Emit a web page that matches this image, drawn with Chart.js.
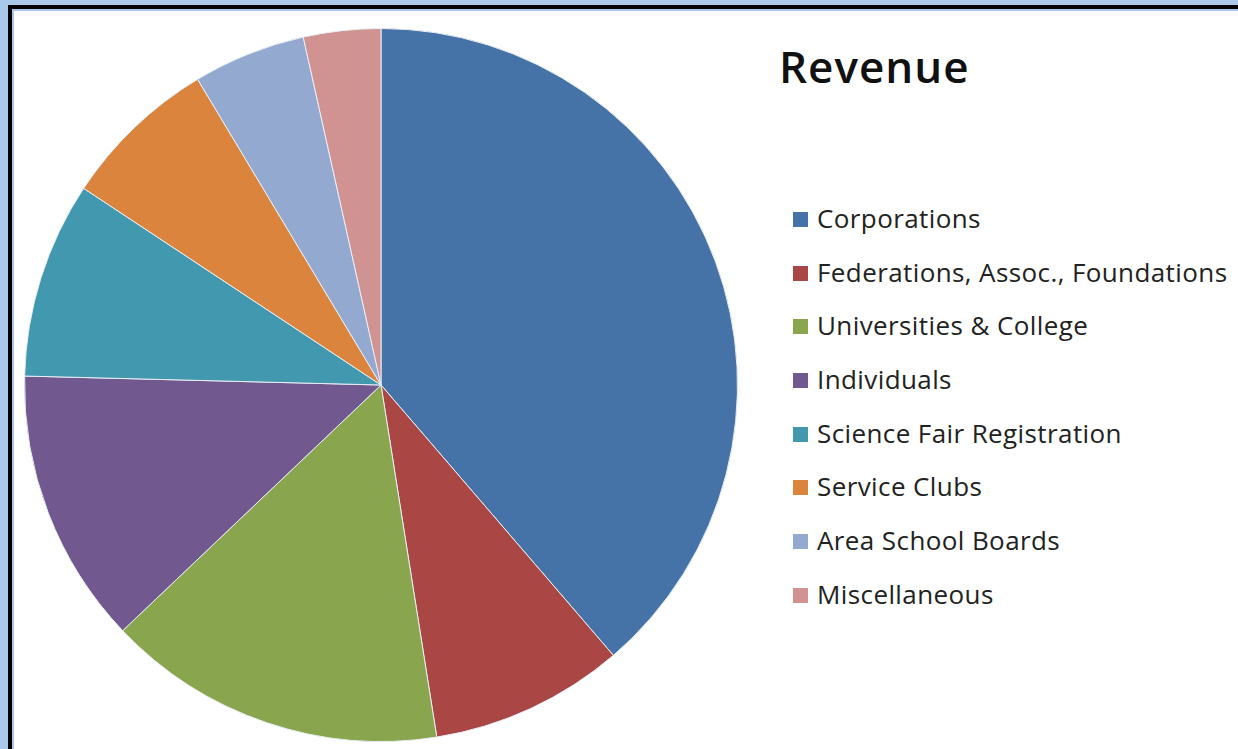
<!DOCTYPE html>
<html>
<head>
<meta charset="utf-8">
<script src="https://cdn.jsdelivr.net/npm/chart.js@4/dist/chart.umd.min.js"></script>
<style>
  html, body { margin: 0; padding: 0; }
  body { width: 1238px; height: 749px; background: #a9c8ea; overflow: hidden; position: relative; font-family: "Open Sans", Lato, sans-serif; }
  .frame { position: absolute; left: 8px; top: 5px; width: 1300px; height: 740px; border: 4px solid #000; background: #a9c8ea; padding: 2px; }
  .inner { width: 100%; height: 100%; background: #fff; }
  #pie { position: absolute; left: 24px; top: 28px; }
  .title { position: absolute; left: 779px; top: 36px; font-size: 44px; font-weight: 600; color: #111; letter-spacing: 1px; }
  .legend { position: absolute; left: 793px; top: 201px; margin: 0; padding: 0; list-style: none; }
  .legend li { height: 53.7px; font-size: 26px; color: #222; display: flex; align-items: flex-start; white-space: nowrap; line-height: 35px; letter-spacing: 0.4px; }
  .legend span.box { display: inline-block; width: 15px; height: 15px; margin: 11px 9px 0 0; }
</style>
</head>
<body>
<div class="frame"><div class="inner"></div></div>
<canvas id="pie" width="714" height="714"></canvas>
<div class="title">Revenue</div>
<ul class="legend" id="legend"></ul>
<script>
const categories = ['Corporations', 'Federations, Assoc., Foundations', 'Universities & College', 'Individuals',
  'Science Fair Registration', 'Service Clubs', 'Area School Boards', 'Miscellaneous'];
const shares = [38.7, 8.8, 15.4, 12.5, 8.9, 7.1, 5.1, 3.5];
const colors = ['#4572A7', '#AA4643', '#89A54E', '#71588F', '#4198AF', '#DB843D', '#93A9CF', '#D19392'];

const chart = new Chart(document.getElementById('pie').getContext('2d'), {
  type: 'pie',
  data: {
    labels: categories,
    datasets: [{
      data: shares,
      backgroundColor: colors,
      borderColor: '#e8eef5',
      borderWidth: 1,
    }],
  },
  options: {
    responsive: false,
    animation: false,
    layout: { padding: 0 },
    plugins: {
      legend: { display: false },
      tooltip: { enabled: false },
    },
  },
});

// legend built from the same arrays
const legend = document.getElementById('legend');
categories.forEach((name, i) => {
  const li = document.createElement('li');
  const box = document.createElement('span');
  box.className = 'box';
  box.style.background = colors[i];
  li.appendChild(box);
  li.appendChild(document.createTextNode(name));
  legend.appendChild(li);
});
</script>
</body>
</html>
